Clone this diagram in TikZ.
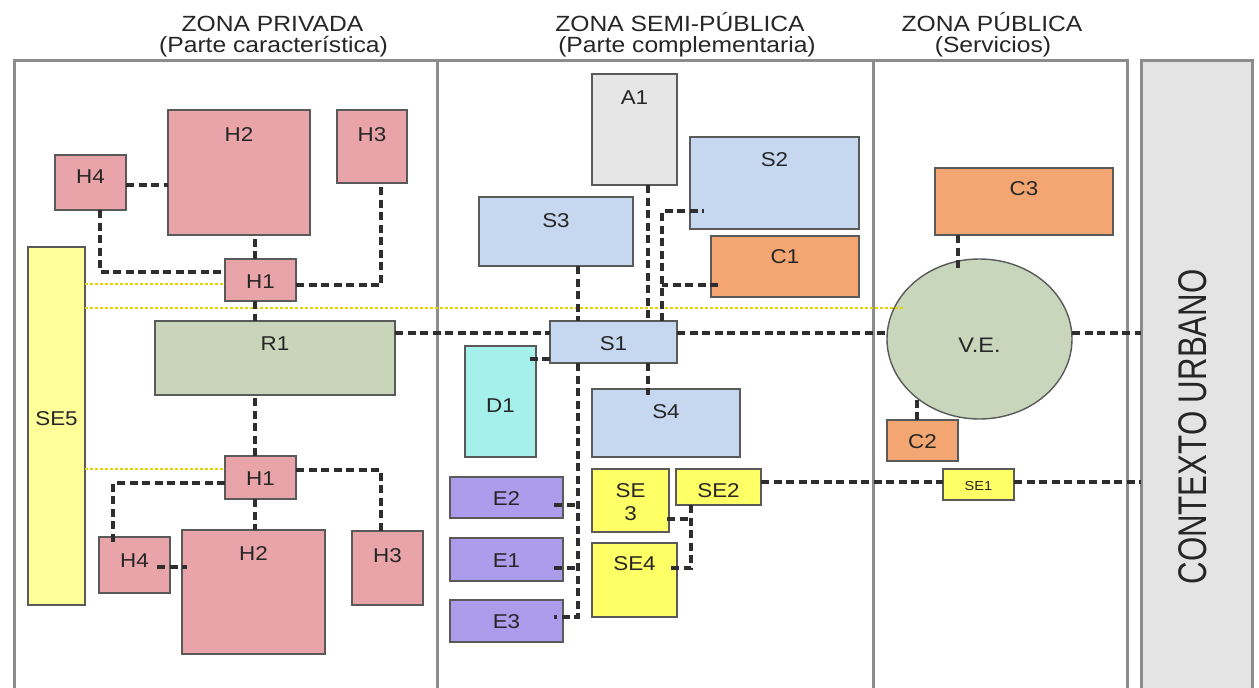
\documentclass[tikz,border=0pt]{standalone}
\usepackage{fontspec}
\setmainfont{Liberation Sans}[FakeStretch=1.12]
\newfontfamily\ctxfont{Liberation Sans}[FakeStretch=0.78]
\usetikzlibrary{shapes.geometric}
\definecolor{pinkf}{HTML}{E8A4A8}
\definecolor{greenf}{HTML}{C9D5B9}
\definecolor{vef}{HTML}{C8D6BB}
\definecolor{bluef}{HTML}{C6D8EF}
\definecolor{grayf}{HTML}{E6E6E6}
\definecolor{orangef}{HTML}{F4A672}
\definecolor{cyanf}{HTML}{A6F0EC}
\definecolor{purplef}{HTML}{AB9DEC}
\definecolor{yelpale}{HTML}{FFFF99}
\definecolor{yelf}{HTML}{FFFF66}
\definecolor{bordc}{HTML}{5A5A5A}
\definecolor{connc}{HTML}{2E2E2E}
\definecolor{ydotc}{HTML}{E6D200}
\definecolor{zonec}{HTML}{8C8C8C}
\definecolor{ctxf}{HTML}{E4E4E4}
\newcommand\lblfont{\fontsize{20}{23}\selectfont}
\newcommand\bx[8]{%
 \pgfmathsetmacro\bxw{#4-#2}%
 \pgfmathsetmacro\bxa{#8-#3}%
 \pgfmathsetmacro\bxb{#5-#8}%
 \pgfmathsetmacro\bxc{(#2+#4)/2}%
 \node[box,#6,anchor=north,minimum width=\bxw pt,text height=\bxa pt,text depth=\bxb pt] (#1) at (\bxc,#3) {#7};}
\begin{document}
\begin{tikzpicture}[x=1pt,y=-1pt,
 box/.style={draw=bordc, line width=1.4pt, inner sep=0pt, outer sep=0pt, font=\lblfont, text=black!85},
 pinkb/.style={fill=pinkf},
 greenb/.style={fill=greenf},
 blueb/.style={fill=bluef},
 grayb/.style={fill=grayf},
 orangeb/.style={fill=orangef},
 cyanb/.style={fill=cyanf},
 purpleb/.style={fill=purplef},
 yelb/.style={fill=yelf},
 yelpb/.style={fill=yelpale},
 conn/.style={draw=connc, line width=3.2pt, dash pattern=on 8pt off 4.5pt},
 ydot/.style={draw=ydotc, line width=1.6pt, dash pattern=on 3pt off 2pt},
 zone/.style={draw=zonec, line width=3pt},
 title/.style={font=\fontsize{22}{22}\selectfont, inner sep=0pt, text=black!85}]
\useasboundingbox (0,0) rectangle (1259,688);
\fill[white] (0,0) rectangle (1259,688);

% titles
\node[title, anchor=base] (t1a) at (272.5,31) {ZONA PRIVADA};
\node[title, anchor=base] (t1b) at (273.5,52) {(Parte característica)};
\node[title, anchor=base] (t2a) at (680,31) {ZONA SEMI-PÚBLICA};
\node[title, anchor=base] (t2b) at (687,52) {(Parte complementaria)};
\node[title, anchor=base] (t3a) at (992,31) {ZONA PÚBLICA};
\node[title, anchor=base] (t3b) at (993,52) {(Servicios)};

% zones
\draw[zone] (14,700) -- (14,60.5) -- (1127,60.5) -- (1127,700);
\draw[zone] (437,60.5) -- (437,700);
\draw[zone] (873,60.5) -- (873,700);
\node[draw=zonec, line width=3pt, fill=ctxf, minimum width=111, minimum height=640,
      anchor=north west, inner sep=0pt, outer sep=0pt] (ctx) at (1141,60.5) {};
\node[font=\ctxfont\fontsize{40}{40}\selectfont, rotate=90, inner sep=0pt, text=black!85] (ctxt) at (1193,427) {CONTEXTO URBANO};

% private zone
\bx{h2a}{168}{110}{310}{235}{pinkb}{H2}{141}
\bx{h3a}{337}{110}{407}{183}{pinkb}{H3}{141}
\bx{h4a}{55}{155}{126}{210}{pinkb}{H4}{183}
\bx{h1a}{225}{259}{296}{301}{pinkb}{H1}{288}
\bx{se5}{28}{247}{85}{605}{yelpb}{SE5}{425}
\bx{r1}{155}{321}{395}{395}{greenb}{R1}{350}
\bx{h1b}{225}{456}{296}{499}{pinkb}{H1}{485}
\bx{h4b}{99}{537}{170}{593}{pinkb}{H4}{567}
\bx{h2b}{182}{530}{325}{654}{pinkb}{H2}{560}
\bx{h3b}{352}{531}{423}{605}{pinkb}{H3}{562}

% semi-public zone
\bx{a1}{592}{74}{677}{185}{grayb}{A1}{104}
\bx{s2}{690}{137}{859}{229}{blueb}{S2}{166}
\bx{s3}{479}{197}{633}{266}{blueb}{S3}{227}
\bx{c1}{711}{236}{859}{297}{orangeb}{C1}{263}
\bx{s1}{550}{321}{677}{363}{blueb}{S1}{350}
\bx{d1}{465}{346}{536}{457}{cyanb}{D1}{412}
\bx{s4}{592}{389}{740}{457}{blueb}{S4}{418}
\bx{e2}{450}{477}{563}{518}{purpleb}{E2}{505}
\bx{e1}{450}{538}{563}{581}{purpleb}{E1}{567}
\bx{e3}{450}{600}{563}{642}{purpleb}{E3}{628}
\bx{se3}{592}{469}{669}{532}{yelb}{\begin{tabular}[t]{@{}c@{}}SE\\3\end{tabular}}{497}
\bx{se2}{676}{469}{761}{505}{yelb}{SE2}{497}
\bx{se4}{592}{543}{677}{617}{yelb}{SE4}{570}

% public zone
\bx{c3}{935}{168}{1113}{235}{orangeb}{C3}{195}
\bx{c2}{887}{420}{958}{461}{orangeb}{C2}{448}
\bx{se1}{943}{469}{1014}{500}{yelb,font=\fontsize{13}{15}\selectfont}{SE1}{490}
\node[ellipse, draw=bordc, line width=1.4pt, fill=vef, minimum width=185, minimum height=160,
      inner sep=0pt, outer sep=0pt, font=\fontsize{21}{23}\selectfont, text=black!85,
      text height=30pt, text depth=4pt] (ve) at (979.5,339) {V.E.};

% yellow dotted links
\coordinate (ylev) at (500,308);
\draw[ydot] ([yshift=-4pt]h1a.west -| se5.east) -- ([yshift=-4pt]h1a.west);
\draw[ydot] (se5.east |- ylev) -- ([xshift=16pt]ve.west |- ylev);
\draw[ydot] ([yshift=8.5pt]h1b.west -| se5.east) -- ([yshift=8.5pt]h1b.west);

% private connectors
\draw[conn] ([yshift=-2.5pt]h4a.east) -- ([yshift=-2.5pt]h4a.east -| h2a.west);
\draw[conn] ([xshift=9.5pt]h4a.south) |- ([yshift=8pt]h1a.west);
\draw[conn] ([xshift=-5.5pt]h1a.north) -- ([xshift=-5.5pt]h1a.north |- h2a.south);
\draw[conn] ([yshift=-5pt]h1a.east) -| ([xshift=9pt]h3a.south);
\draw[conn] ([xshift=-5.5pt]h1a.south) -- ([xshift=-5.5pt]h1a.south |- r1.north);
\draw[conn] ([xshift=-5.5pt]h1b.north) -- ([xshift=-5.5pt]h1b.north |- r1.south);
\draw[conn] ([yshift=-5.5pt]h1b.west) -| ([xshift=-21.5pt]h4b.north) -- ++(0,6);
\draw[conn] ([yshift=7.5pt]h1b.east) -| ([xshift=-6.5pt]h3b.north);
\draw[conn] ([xshift=-5.5pt]h1b.south) -- ([xshift=-5.5pt]h1b.south |- h2b.north);
\draw[conn] ([xshift=-13pt,yshift=-2pt]h4b.east) -- ([yshift=-2pt]h4b.east -| h2b.west) -- ++(5,0);

% main axis
\draw[conn] ([yshift=9pt]s1.west -| r1.east) -- ([yshift=9pt]s1.west);
\draw[conn] ([yshift=9pt]s1.east) -- ([yshift=9pt]s1.east -| ve.west);
\draw[conn] ([yshift=6pt]ve.east) -- ([yshift=6pt]ve.east -| ctx.west);

% semi-public connectors
\draw[conn] ([xshift=22pt]s3.south) -- ([xshift=22pt]s3.south |- s1.north);
\draw[conn] ([xshift=13.5pt]a1.south) -- ([xshift=13.5pt]a1.south |- s1.north);
\coordinate (s1t) at ([xshift=48.5pt]s1.north);
\draw[conn] (s1t) |- ([xshift=14pt,yshift=-28pt]s2.west);
\draw[conn] ([xshift=7pt,yshift=-18.5pt]c1.west) -- ([yshift=-18.5pt]c1.west -| s1t);
\draw[conn] ([yshift=-17pt]s1.west) -- ([yshift=-17pt]s1.west -| d1.east) -- ++(-10,0);
\coordinate (s1b) at ([xshift=-35.5pt]s1.south);
\draw[conn] (s1b) |- ([xshift=-9pt,yshift=4pt]e3.east);
\draw[conn] ([xshift=-9pt,yshift=-7.5pt]e2.east) -- ([yshift=-7.5pt]e2.east -| s1b);
\draw[conn] ([xshift=-9pt,yshift=-8.5pt]e1.east) -- ([yshift=-8.5pt]e1.east -| s1b);
\draw[conn] ([xshift=34.5pt]s1.south) -- ([xshift=34.5pt]s1.south |- s4.north) -- ++(0,6);
\coordinate (se2b) at ([xshift=-27.5pt]se2.south);
\draw[conn] (se2b) |- ([xshift=-10pt,yshift=12pt]se4.east);
\draw[conn] ([xshift=-2pt,yshift=-18.5pt]se3.east) -- ([yshift=-18.5pt]se3.east -| se2b);
\draw[conn] ([yshift=5pt]se2.east) -- ([yshift=5pt]se2.east -| se1.west);
\draw[conn] ([yshift=2.5pt]se1.east) -- ([yshift=2.5pt]se1.east -| ctx.west);

% public connectors
\draw[conn] ([xshift=-66pt]c3.south) -- ([xshift=-66pt]c3.south |- ve.north) -- ++(0,10);
\draw[conn] ([xshift=-5.5pt]c2.north) -- ++(0,-23);
\end{tikzpicture}
\end{document}
